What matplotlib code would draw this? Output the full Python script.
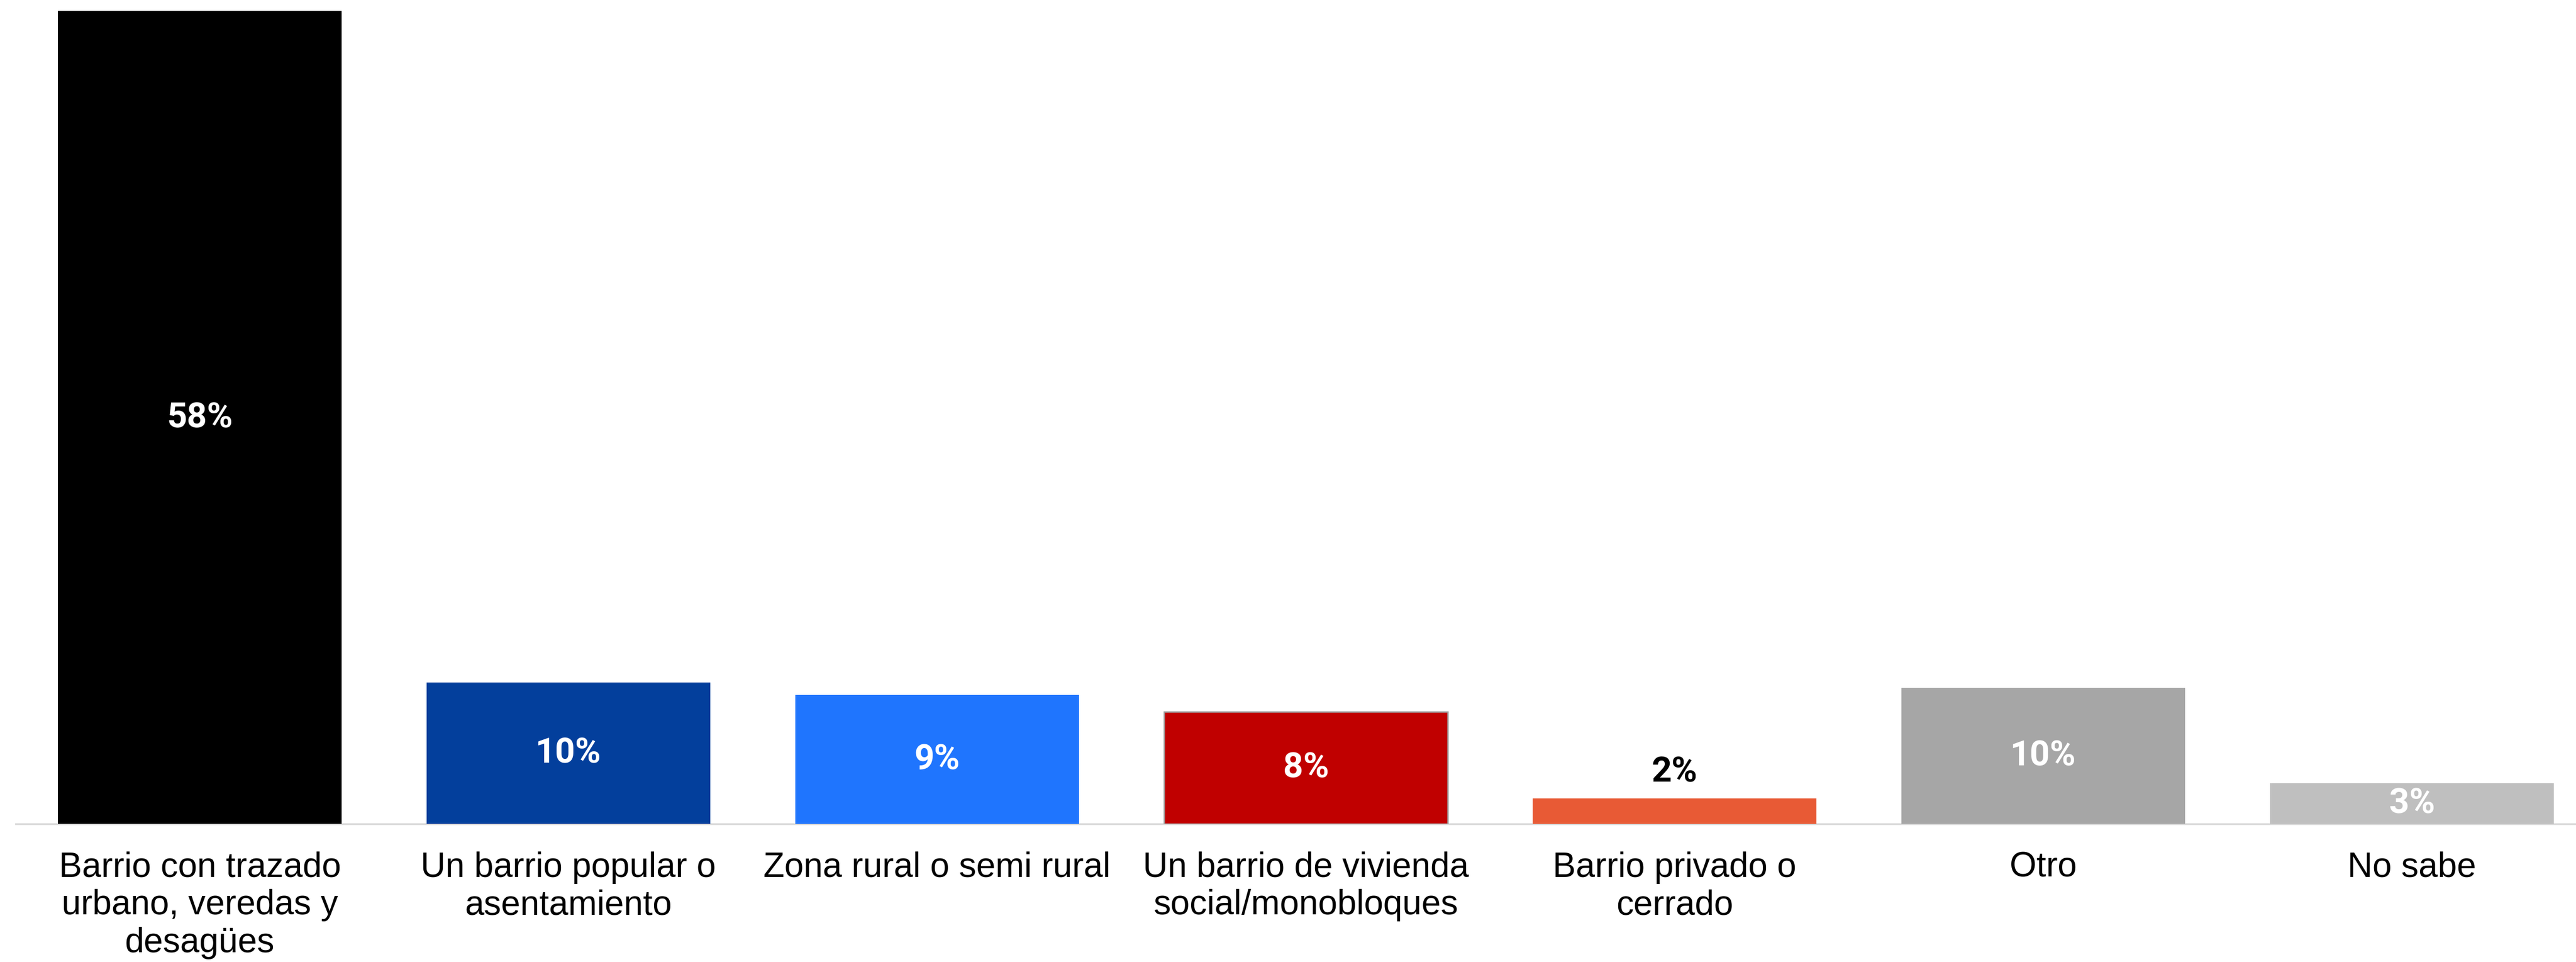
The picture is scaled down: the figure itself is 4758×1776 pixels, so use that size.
import matplotlib

matplotlib.use("Agg")
import matplotlib.pyplot as plt

categories = [
    "Barrio con trazado\nurbano, veredas y\ndesagües",
    "Un barrio popular o\nasentamiento",
    "Zona rural o semi rural",
    "Un barrio de vivienda\nsocial/monobloques",
    "Barrio privado o\ncerrado",
    "Otro",
    "No sabe",
]
values = [58.0, 10.1, 9.2, 8.0, 1.8, 9.7, 2.9]
colors = ["#000000", "#033F9C", "#1F75FE", "#C00000", "#E85A35", "#A6A6A6", "#BFBFBF"]
label_colors = ["white", "white", "white", "white", "black", "white", "white"]
labels_outside = [False, False, False, False, True, False, False]

W, H, DPI = 4758, 1777, 300
fig = plt.figure(figsize=(W / DPI, H / DPI), dpi=DPI)
fig.patch.set_facecolor("white")

# axes placed in pixel terms: baseline at y=1522, first category centred at x=369
left_px, base_px, step_px = 28.5, 1522, 681
ax = fig.add_axes([left_px / W, (H - base_px) / H, (W - left_px) / W, base_px / H])
ax.set_xlim(-0.5, -0.5 + (W - left_px) / step_px)
ax.set_ylim(0, 58.0 * base_px / 1501)

x = list(range(len(categories)))
bars = ax.bar(x, values, width=0.77, color=colors, zorder=2)
bars[3].set_edgecolor("#9E9E9E")
bars[3].set_linewidth(0.6)

value_font = ["Liberation Sans Narrow", "Roboto", "DejaVu Sans"]
for xi, v, c, out in zip(x, values, label_colors, labels_outside):
    y = v + 1.9 if out else v / 2
    ax.text(xi, y, f"{v:.0f}%", ha="center", va="center", color=c,
            fontsize=15.5, fontweight="bold", family=value_font, zorder=3)

for side in ["top", "right", "left"]:
    ax.spines[side].set_visible(False)
ax.spines["bottom"].set_color("#D9D9D9")
ax.spines["bottom"].set_linewidth(0.8)
ax.spines["bottom"].set_zorder(1)

ax.set_yticks([])
ax.set_xticks(x)
ax.set_xticklabels(categories, fontsize=15.3, family=["Liberation Sans", "DejaVu Sans"],
                   linespacing=1.2)
ax.tick_params(axis="x", length=0, pad=12)

fig.savefig("out.png", dpi=DPI, facecolor="white")
